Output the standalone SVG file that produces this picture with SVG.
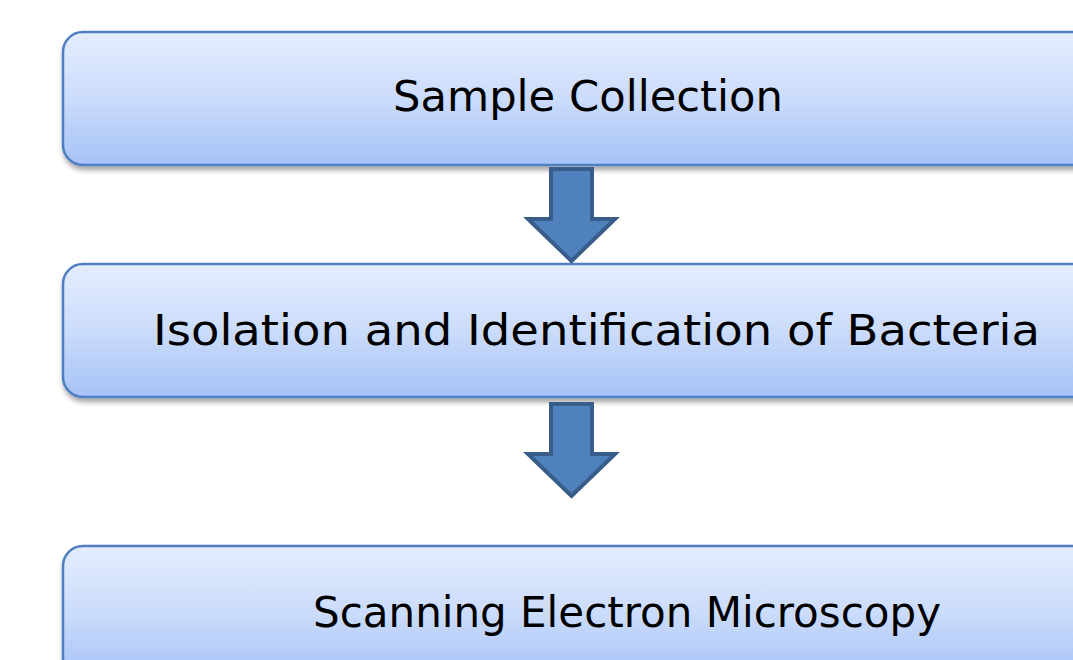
<svg xmlns="http://www.w3.org/2000/svg" width="1073" height="660" viewBox="0 0 1073 660">
<defs>
<linearGradient id="bg" x1="0" y1="0" x2="0" y2="1">
<stop offset="0" stop-color="#e4edfd"/>
<stop offset="0.5" stop-color="#cbdcfb"/>
<stop offset="1" stop-color="#a6c2f7"/>
</linearGradient>
<filter id="sh" x="-5%" y="-10%" width="110%" height="130%">
<feGaussianBlur in="SourceAlpha" stdDeviation="2.5"/>
<feOffset dx="1" dy="4" result="b"/>
<feComponentTransfer><feFuncA type="linear" slope="0.35"/></feComponentTransfer>
<feMerge><feMergeNode/><feMergeNode in="SourceGraphic"/></feMerge>
</filter>
</defs>
<style>
.box{fill:url(#bg);stroke:#4f7fc0;stroke-width:2.5;filter:url(#sh)}
.lbl{font-family:"Comic Sans MS","DejaVu Sans","Noto Sans",sans-serif;font-size:42px;fill:#000}
.arr{fill:#4f81bd;stroke:#385d8a;stroke-width:4;stroke-linejoin:miter}
</style>
<rect width="1073" height="660" fill="#fff"/>
<g id="node1">
<rect class="box" x="63" y="32" width="1060" height="133" rx="20" ry="20"/>
<text class="lbl" x="393" y="111" textLength="390" lengthAdjust="spacingAndGlyphs">Sample Collection</text>
</g>
<g id="node2">
<rect class="box" x="63" y="264" width="1060" height="133" rx="20" ry="20"/>
<text class="lbl" x="153" y="345" textLength="887" lengthAdjust="spacingAndGlyphs">Isolation and Identification of Bacteria</text>
</g>
<g id="node3">
<rect class="box" x="63" y="546" width="1060" height="133" rx="20" ry="20"/>
<text class="lbl" x="313" y="627" textLength="628" lengthAdjust="spacingAndGlyphs">Scanning Electron Microscopy</text>
</g>
<g id="connectors">
<polygon class="arr" points="551,169 592,169 592,219 615,219 571.5,261 528,219 551,219"/>
<polygon class="arr" points="551,404 592,404 592,454 615,454 571.5,496 528,454 551,454"/>
</g>
</svg>
